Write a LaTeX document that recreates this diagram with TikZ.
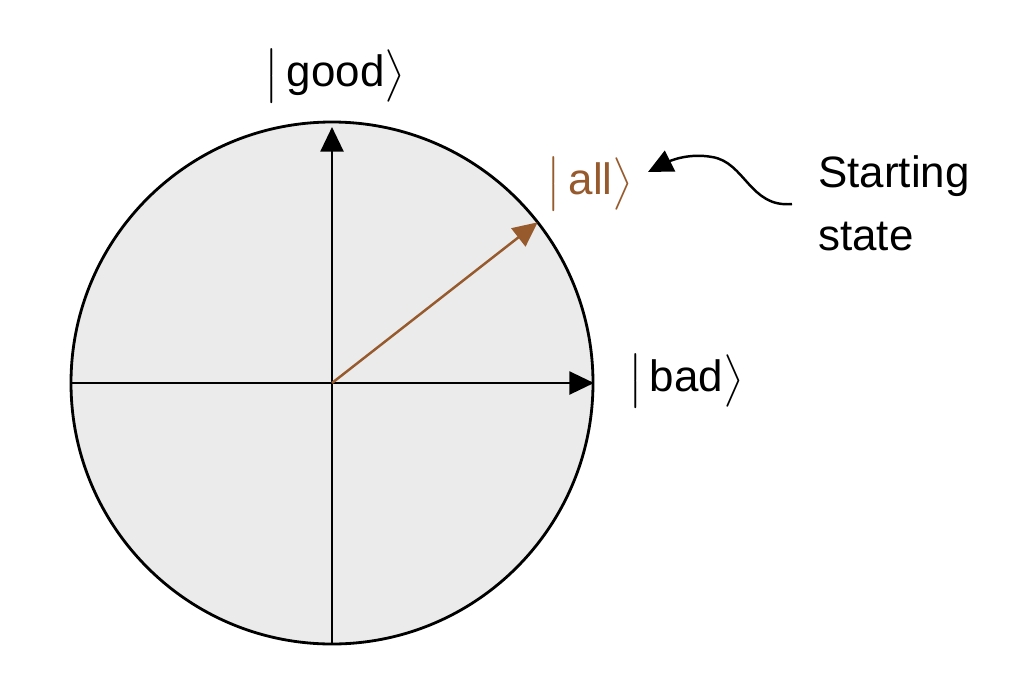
\documentclass[tikz,border=0pt]{standalone}
\usepackage{amsmath}
\usepackage{fontspec}
\setmainfont{Liberation Sans}
\usetikzlibrary{arrows.meta,positioning}
\definecolor{ketbrown}{RGB}{150,90,45}
\definecolor{discgray}{RGB}{235,235,235}
\newcommand{\ketlabel}[1]{$\bigl|\,$#1$\bigr\rangle$}

\begin{document}
\begin{tikzpicture}[x=0.02cm, y=-0.02cm,
    axis/.style={line width=1.6pt},
    tip/.style={-{Triangle[length=14pt,width=13pt]}},
    lbl/.style={font=\fontsize{25}{36}\selectfont, inner sep=0pt}]
    \useasboundingbox (0,0) rectangle (1035,680);

    % disc and axes
    \coordinate (O) at (332,383);
    \draw[axis, fill=discgray] (O) circle (261);
    \coordinate (W) at (71,383);
    \coordinate (E) at (594,383);
    \coordinate (S) at (332,644);
    \coordinate (N) at (332,127);
    \draw[axis, tip] (W) -- (E);
    \draw[axis, tip] (S) -- (N);
    \draw[axis, tip, ketbrown, line width=1.4pt] (O) -- ++(-38:261) coordinate (A);

    % labels
    \node[lbl] (good) at (335,76) {\ketlabel{good}};
    \node[lbl] (bad) at (686,381) {\ketlabel{bad}};
    \node[lbl, text=ketbrown] (all) at (590,184) {\ketlabel{all}};
    \node[lbl, anchor=west, align=left] (start) at (818,203) {Starting\\state};

    % pointer to the starting state
    \coordinate (sq) at (792,204);
    \coordinate (pt) at (648,172);
    \draw[line width=1.4pt, tip] (sq) .. controls (750,208) and (745,162) .. (712,157)
        .. controls (690,153) and (672,160) .. (pt);
\end{tikzpicture}
\end{document}
